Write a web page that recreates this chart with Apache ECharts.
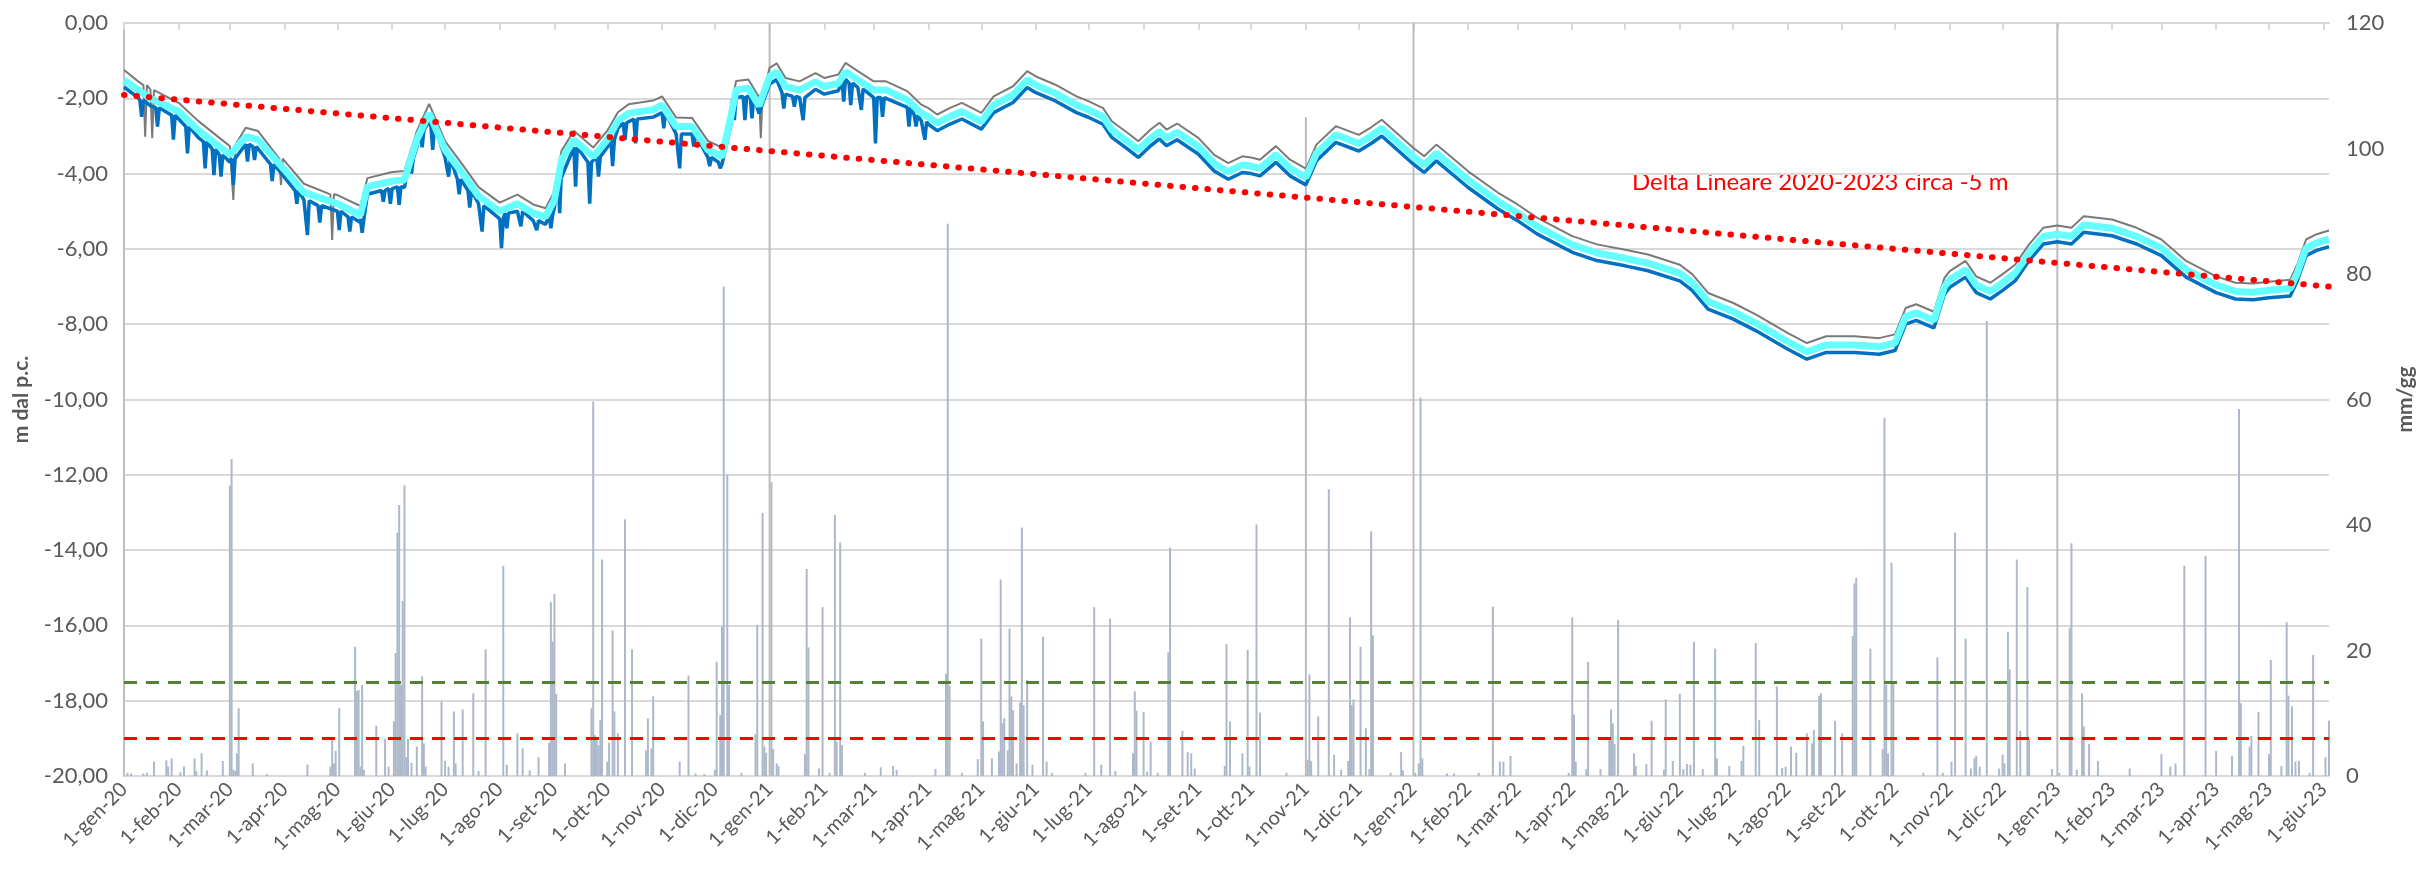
<!DOCTYPE html>
<html>
<head>
<meta charset="utf-8">
<title>Livello piezometrico e piogge 2020-2023</title>
<script src="https://cdn.jsdelivr.net/npm/echarts@6/dist/echarts.min.js"></script>
<style>
  html, body { margin: 0; padding: 0; background: #fff; }
  #charts { width: 2433px; height: 879px; }
</style>
</head>
<body>
<div id="charts"></div>
<script>
// mesi per le etichette dell'asse x
var mesi = ['gen', 'feb', 'mar', 'apr', 'mag', 'giu', 'lug', 'ago', 'set', 'ott', 'nov', 'dic'];
var dataInizio = '2020-01-01';
var dataFine = '2023-06-04';

// tacche degli assi
var tickSinistra = [-20, -18, -16, -14, -12, -10, -8, -6, -4, -2, 0];
var tickDestra = [0, 20, 40, 60, 80, 100, 120];

// livello superiore (grigio) m dal p.c.
var serieGrigia = [
    ['2020-01-01', -1.25], ['2020-01-09', -1.55], ['2020-01-16', -1.77], ['2020-02-01', -2.12], ['2020-02-12', -2.60],
    ['2020-03-01', -3.27], ['2020-03-10', -2.78], ['2020-03-17', -2.87], ['2020-04-01', -3.66], ['2020-04-12', -4.27],
    ['2020-05-01', -4.57], ['2020-05-14', -4.86], ['2020-05-18', -4.12], ['2020-06-01', -3.96], ['2020-06-08', -3.93],
    ['2020-06-15', -2.87], ['2020-06-22', -2.15], ['2020-07-01', -3.14], ['2020-07-11', -3.77], ['2020-07-20', -4.36],
    ['2020-08-01', -4.77], ['2020-08-11', -4.56], ['2020-08-20', -4.82], ['2020-08-27', -4.92], ['2020-09-01', -4.47],
    ['2020-09-05', -3.40], ['2020-09-12', -2.86], ['2020-09-23', -3.31], ['2020-10-01', -2.86], ['2020-10-07', -2.37],
    ['2020-10-13', -2.16], ['2020-10-27', -2.06], ['2020-11-01', -1.95], ['2020-11-09', -2.51], ['2020-11-18', -2.52],
    ['2020-11-27', -3.13], ['2020-12-05', -3.31], ['2020-12-10', -2.27], ['2020-12-13', -1.54], ['2020-12-20', -1.50],
    ['2020-12-26', -1.97], ['2021-01-01', -1.19], ['2021-01-05', -1.07], ['2021-01-10', -1.46], ['2021-01-18', -1.55],
    ['2021-01-27', -1.33], ['2021-02-01', -1.46], ['2021-02-09', -1.37], ['2021-02-13', -1.06], ['2021-02-20', -1.28],
    ['2021-03-01', -1.55], ['2021-03-08', -1.55], ['2021-03-20', -1.81], ['2021-03-28', -2.17], ['2021-04-01', -2.26],
    ['2021-04-06', -2.43], ['2021-04-13', -2.26], ['2021-04-20', -2.12], ['2021-05-01', -2.39], ['2021-05-08', -1.95],
    ['2021-05-19', -1.68], ['2021-05-27', -1.28], ['2021-06-01', -1.42], ['2021-06-12', -1.64], ['2021-06-24', -1.95],
    ['2021-07-01', -2.08], ['2021-07-09', -2.26], ['2021-07-14', -2.61], ['2021-07-23', -2.92], ['2021-07-29', -3.14],
    ['2021-08-05', -2.83], ['2021-08-10', -2.65], ['2021-08-14', -2.83], ['2021-08-20', -2.67], ['2021-09-01', -3.05],
    ['2021-09-10', -3.50], ['2021-09-18', -3.72], ['2021-09-26', -3.54], ['2021-10-01', -3.57], ['2021-10-06', -3.63],
    ['2021-10-15', -3.27], ['2021-10-23', -3.63], ['2021-11-01', -3.87], ['2021-11-07', -3.23], ['2021-11-18', -2.74],
    ['2021-12-01', -2.97], ['2021-12-08', -2.77], ['2021-12-14', -2.57], ['2022-01-01', -3.32], ['2022-01-07', -3.54],
    ['2022-01-14', -3.23], ['2022-02-01', -3.94], ['2022-02-18', -4.51], ['2022-03-01', -4.82], ['2022-03-12', -5.17],
    ['2022-04-01', -5.66], ['2022-04-15', -5.88], ['2022-05-01', -6.02], ['2022-05-14', -6.15], ['2022-06-01', -6.42],
    ['2022-06-08', -6.67], ['2022-06-17', -7.17], ['2022-07-01', -7.43], ['2022-07-14', -7.74], ['2022-08-01', -8.23],
    ['2022-08-12', -8.50], ['2022-08-23', -8.32], ['2022-09-08', -8.32], ['2022-09-22', -8.37], ['2022-10-01', -8.27],
    ['2022-10-07', -7.57], ['2022-10-13', -7.47], ['2022-10-23', -7.67], ['2022-10-29', -6.77], ['2022-11-01', -6.59],
    ['2022-11-10', -6.32], ['2022-11-16', -6.73], ['2022-11-24', -6.90], ['2022-12-01', -6.67], ['2022-12-08', -6.42],
    ['2022-12-16', -5.88], ['2022-12-24', -5.44], ['2023-01-01', -5.38], ['2023-01-09', -5.44], ['2023-01-16', -5.13],
    ['2023-02-01', -5.22], ['2023-02-15', -5.44], ['2023-03-01', -5.75], ['2023-03-15', -6.32], ['2023-04-01', -6.73],
    ['2023-04-12', -6.90], ['2023-04-22', -6.92], ['2023-05-01', -6.87], ['2023-05-13', -6.82], ['2023-05-17', -6.42],
    ['2023-05-22', -5.75], ['2023-05-28', -5.61], ['2023-06-04', -5.51]
];
// picchi grigi: data, livello intorno, minimo
var picchiGrigi = [
    ['2020-01-13', -1.65, -3.02], ['2020-01-17', -1.78, -3.06], ['2020-03-03', -3.25, -4.70],
    ['2020-03-30', -3.60, -4.30], ['2020-04-28', -4.55, -5.76], ['2020-12-27', -1.90, -3.06]
];

// livello medio (azzurro)
var serieAzzurra = [
    ['2020-01-01', -1.51], ['2020-01-09', -1.78], ['2020-01-16', -2.00], ['2020-02-01', -2.35], ['2020-02-12', -2.84],
    ['2020-03-01', -3.50], ['2020-03-10', -3.02], ['2020-03-17', -3.10], ['2020-04-01', -3.90], ['2020-04-12', -4.50],
    ['2020-05-01', -4.80], ['2020-05-14', -5.10], ['2020-05-18', -4.35], ['2020-06-01', -4.20], ['2020-06-08', -4.17],
    ['2020-06-15', -3.10], ['2020-06-22', -2.40], ['2020-07-01', -3.37], ['2020-07-11', -4.00], ['2020-07-20', -4.60],
    ['2020-08-01', -5.00], ['2020-08-11', -4.80], ['2020-08-20', -5.05], ['2020-08-27', -5.15], ['2020-09-01', -4.70],
    ['2020-09-05', -3.64], ['2020-09-12', -3.10], ['2020-09-23', -3.55], ['2020-10-01', -3.10], ['2020-10-07', -2.60],
    ['2020-10-13', -2.40], ['2020-10-27', -2.30], ['2020-11-01', -2.18], ['2020-11-09', -2.75], ['2020-11-18', -2.75],
    ['2020-11-27', -3.37], ['2020-12-05', -3.55], ['2020-12-10', -2.50], ['2020-12-13', -1.78], ['2020-12-20', -1.73],
    ['2020-12-26', -2.20], ['2021-01-01', -1.42], ['2021-01-05', -1.30], ['2021-01-10', -1.69], ['2021-01-18', -1.78],
    ['2021-01-27', -1.56], ['2021-02-01', -1.69], ['2021-02-09', -1.60], ['2021-02-13', -1.29], ['2021-02-20', -1.51],
    ['2021-03-01', -1.78], ['2021-03-08', -1.78], ['2021-03-20', -2.04], ['2021-03-28', -2.40], ['2021-04-01', -2.49],
    ['2021-04-06', -2.66], ['2021-04-13', -2.49], ['2021-04-20', -2.35], ['2021-05-01', -2.62], ['2021-05-08', -2.18],
    ['2021-05-19', -1.91], ['2021-05-27', -1.51], ['2021-06-01', -1.65], ['2021-06-12', -1.87], ['2021-06-24', -2.18],
    ['2021-07-01', -2.31], ['2021-07-09', -2.49], ['2021-07-14', -2.84], ['2021-07-23', -3.15], ['2021-07-29', -3.37],
    ['2021-08-05', -3.06], ['2021-08-10', -2.88], ['2021-08-14', -3.06], ['2021-08-20', -2.90], ['2021-09-01', -3.28],
    ['2021-09-10', -3.73], ['2021-09-18', -3.95], ['2021-09-26', -3.77], ['2021-10-01', -3.80], ['2021-10-06', -3.86],
    ['2021-10-15', -3.50], ['2021-10-23', -3.86], ['2021-11-01', -4.10], ['2021-11-07', -3.46], ['2021-11-18', -2.97],
    ['2021-12-01', -3.20], ['2021-12-08', -3.00], ['2021-12-14', -2.80], ['2022-01-01', -3.55], ['2022-01-07', -3.77],
    ['2022-01-14', -3.46], ['2022-02-01', -4.17], ['2022-02-18', -4.74], ['2022-03-01', -5.05], ['2022-03-12', -5.40],
    ['2022-04-01', -5.89], ['2022-04-15', -6.11], ['2022-05-01', -6.25], ['2022-05-14', -6.38], ['2022-06-01', -6.65],
    ['2022-06-08', -6.90], ['2022-06-17', -7.40], ['2022-07-01', -7.66], ['2022-07-14', -7.97], ['2022-08-01', -8.46],
    ['2022-08-12', -8.73], ['2022-08-23', -8.55], ['2022-09-08', -8.55], ['2022-09-22', -8.60], ['2022-10-01', -8.50],
    ['2022-10-07', -7.80], ['2022-10-13', -7.70], ['2022-10-23', -7.90], ['2022-10-29', -7.00], ['2022-11-01', -6.82],
    ['2022-11-10', -6.55], ['2022-11-16', -6.96], ['2022-11-24', -7.13], ['2022-12-01', -6.90], ['2022-12-08', -6.65],
    ['2022-12-16', -6.11], ['2022-12-24', -5.67], ['2023-01-01', -5.61], ['2023-01-09', -5.67], ['2023-01-16', -5.36],
    ['2023-02-01', -5.45], ['2023-02-15', -5.67], ['2023-03-01', -5.98], ['2023-03-15', -6.55], ['2023-04-01', -6.96],
    ['2023-04-12', -7.13], ['2023-04-22', -7.15], ['2023-05-01', -7.10], ['2023-05-13', -7.05], ['2023-05-17', -6.65],
    ['2023-05-22', -5.98], ['2023-05-28', -5.84], ['2023-06-04', -5.74]
];

// livello inferiore (blu)
var serieBlu = [
    ['2020-01-01', -1.70], ['2020-01-09', -1.98], ['2020-01-16', -2.20], ['2020-02-01', -2.55], ['2020-02-12', -3.04],
    ['2020-03-01', -3.70], ['2020-03-10', -3.22], ['2020-03-17', -3.30], ['2020-04-01', -4.10], ['2020-04-12', -4.70],
    ['2020-05-01', -5.00], ['2020-05-14', -5.30], ['2020-05-18', -4.55], ['2020-06-01', -4.40], ['2020-06-08', -4.37],
    ['2020-06-15', -3.30], ['2020-06-22', -2.60], ['2020-07-01', -3.57], ['2020-07-11', -4.20], ['2020-07-20', -4.80],
    ['2020-08-01', -5.20], ['2020-08-11', -5.00], ['2020-08-20', -5.25], ['2020-08-27', -5.35], ['2020-09-01', -4.90],
    ['2020-09-05', -3.84], ['2020-09-12', -3.30], ['2020-09-23', -3.75], ['2020-10-01', -3.30], ['2020-10-07', -2.80],
    ['2020-10-13', -2.60], ['2020-10-27', -2.50], ['2020-11-01', -2.38], ['2020-11-09', -2.95], ['2020-11-18', -2.95],
    ['2020-11-27', -3.57], ['2020-12-05', -3.75], ['2020-12-10', -2.70], ['2020-12-13', -1.98], ['2020-12-20', -1.93],
    ['2020-12-26', -2.40], ['2021-01-01', -1.62], ['2021-01-05', -1.50], ['2021-01-10', -1.89], ['2021-01-18', -1.98],
    ['2021-01-27', -1.76], ['2021-02-01', -1.89], ['2021-02-09', -1.80], ['2021-02-13', -1.49], ['2021-02-20', -1.71],
    ['2021-03-01', -1.98], ['2021-03-08', -1.98], ['2021-03-20', -2.24], ['2021-03-28', -2.60], ['2021-04-01', -2.69],
    ['2021-04-06', -2.86], ['2021-04-13', -2.69], ['2021-04-20', -2.55], ['2021-05-01', -2.82], ['2021-05-08', -2.38],
    ['2021-05-19', -2.11], ['2021-05-27', -1.71], ['2021-06-01', -1.85], ['2021-06-12', -2.07], ['2021-06-24', -2.38],
    ['2021-07-01', -2.51], ['2021-07-09', -2.69], ['2021-07-14', -3.04], ['2021-07-23', -3.35], ['2021-07-29', -3.57],
    ['2021-08-05', -3.26], ['2021-08-10', -3.08], ['2021-08-14', -3.26], ['2021-08-20', -3.10], ['2021-09-01', -3.48],
    ['2021-09-10', -3.93], ['2021-09-18', -4.15], ['2021-09-26', -3.97], ['2021-10-01', -4.00], ['2021-10-06', -4.06],
    ['2021-10-15', -3.70], ['2021-10-23', -4.06], ['2021-11-01', -4.30], ['2021-11-07', -3.66], ['2021-11-18', -3.17],
    ['2021-12-01', -3.40], ['2021-12-08', -3.20], ['2021-12-14', -3.00], ['2022-01-01', -3.75], ['2022-01-07', -3.97],
    ['2022-01-14', -3.66], ['2022-02-01', -4.37], ['2022-02-18', -4.94], ['2022-03-01', -5.25], ['2022-03-12', -5.60],
    ['2022-04-01', -6.09], ['2022-04-15', -6.31], ['2022-05-01', -6.45], ['2022-05-14', -6.58], ['2022-06-01', -6.85],
    ['2022-06-08', -7.10], ['2022-06-17', -7.60], ['2022-07-01', -7.86], ['2022-07-14', -8.17], ['2022-08-01', -8.66],
    ['2022-08-12', -8.93], ['2022-08-23', -8.75], ['2022-09-08', -8.75], ['2022-09-22', -8.80], ['2022-10-01', -8.70],
    ['2022-10-07', -8.00], ['2022-10-13', -7.90], ['2022-10-23', -8.10], ['2022-10-29', -7.20], ['2022-11-01', -7.02],
    ['2022-11-10', -6.75], ['2022-11-16', -7.16], ['2022-11-24', -7.33], ['2022-12-01', -7.10], ['2022-12-08', -6.85],
    ['2022-12-16', -6.31], ['2022-12-24', -5.87], ['2023-01-01', -5.81], ['2023-01-09', -5.87], ['2023-01-16', -5.56],
    ['2023-02-01', -5.65], ['2023-02-15', -5.87], ['2023-03-01', -6.18], ['2023-03-15', -6.75], ['2023-04-01', -7.16],
    ['2023-04-12', -7.33], ['2023-04-22', -7.35], ['2023-05-01', -7.30], ['2023-05-13', -7.25], ['2023-05-17', -6.85],
    ['2023-05-22', -6.18], ['2023-05-28', -6.04], ['2023-06-04', -5.94]
];
// picchi blu: data, livello intorno, minimo
var picchiBlu = [
    ['2020-01-11', -2.05, -2.49], ['2020-01-20', -2.25, -2.75], ['2020-01-29', -2.45, -3.10], ['2020-02-06', -2.75, -3.46],
    ['2020-02-16', -3.15, -3.86], ['2020-02-21', -3.35, -4.04], ['2020-02-25', -3.50, -4.08], ['2020-03-03', -3.60, -4.30],
    ['2020-03-11', -3.22, -3.68], ['2020-03-15', -3.28, -3.64], ['2020-03-25', -3.75, -4.20], ['2020-04-08', -4.45, -4.80],
    ['2020-04-14', -4.72, -5.63], ['2020-04-21', -4.85, -5.30], ['2020-05-02', -5.00, -5.50], ['2020-05-08', -5.15, -5.54],
    ['2020-05-15', -5.20, -5.57], ['2020-05-27', -4.45, -4.75], ['2020-05-31', -4.40, -4.80], ['2020-06-05', -4.35, -4.83],
    ['2020-06-12', -3.60, -4.00], ['2020-06-18', -2.85, -3.30], ['2020-06-24', -2.75, -3.37], ['2020-07-03', -3.60, -4.08],
    ['2020-07-09', -4.15, -4.55], ['2020-07-15', -4.45, -4.90], ['2020-07-22', -4.85, -5.54], ['2020-08-02', -5.20, -5.98],
    ['2020-08-05', -5.05, -5.45], ['2020-08-13', -5.00, -5.40], ['2020-08-22', -5.25, -5.50], ['2020-08-30', -5.10, -5.45],
    ['2020-09-04', -4.10, -5.05], ['2020-09-13', -3.30, -4.35], ['2020-09-21', -3.70, -4.80], ['2020-09-26', -3.55, -4.08],
    ['2020-10-04', -3.10, -3.80], ['2020-10-11', -2.65, -3.10], ['2020-10-17', -2.55, -3.20], ['2020-11-02', -2.38, -2.80],
    ['2020-11-11', -2.95, -3.86], ['2020-11-19', -2.95, -3.28], ['2020-11-28', -3.57, -3.80], ['2020-12-04', -3.70, -3.86],
    ['2020-12-12', -2.00, -2.58], ['2020-12-18', -1.95, -2.58], ['2020-12-22', -1.95, -2.53], ['2021-01-09', -1.85, -2.27],
    ['2021-01-15', -1.95, -2.22], ['2021-01-20', -1.98, -2.58], ['2021-02-12', -1.50, -2.09], ['2021-02-16', -1.60, -2.18],
    ['2021-02-22', -1.75, -2.31], ['2021-03-02', -1.98, -3.20], ['2021-03-06', -1.98, -2.49], ['2021-03-21', -2.24, -2.75],
    ['2021-03-25', -2.45, -2.75], ['2021-03-30', -2.62, -3.10]
];

// retta di tendenza
var tendenza = [['2020-01-01', -1.91], ['2023-06-04', -7.0]];
// soglie
var sogliaVerde = -17.5;
var sogliaRossa = -19;

// pioggia giornaliera mm/gg
var pioggia = [
    ['2020-01-03', 0.5], ['2020-01-05', 0.4], ['2020-01-12', 0.4], ['2020-01-14', 0.5], ['2020-01-18', 2.3], ['2020-01-25', 2.5],
    ['2020-01-26', 1.5], ['2020-01-28', 2.8], ['2020-02-02', 0.6], ['2020-02-04', 1.5], ['2020-02-10', 2.8], ['2020-02-11', 0.8],
    ['2020-02-14', 3.6], ['2020-02-17', 0.9], ['2020-02-26', 2.4], ['2020-03-01', 46.3], ['2020-03-02', 50.5], ['2020-03-03', 1.0],
    ['2020-03-04', 0.8], ['2020-03-05', 3.6], ['2020-03-06', 10.8], ['2020-03-14', 2.0], ['2020-03-22', 0.3], ['2020-04-14', 1.8],
    ['2020-04-27', 1.5], ['2020-04-28', 6.0], ['2020-04-29', 2.0], ['2020-04-30', 4.0], ['2020-05-02', 10.8], ['2020-05-11', 20.6],
    ['2020-05-12', 13.5], ['2020-05-13', 13.7], ['2020-05-14', 1.5], ['2020-05-15', 14.5], ['2020-05-16', 1.0], ['2020-05-23', 8.0],
    ['2020-05-28', 5.9], ['2020-05-30', 1.5], ['2020-06-02', 8.7], ['2020-06-03', 19.6], ['2020-06-04', 38.8], ['2020-06-05', 43.2],
    ['2020-06-06', 14.5], ['2020-06-07', 27.9], ['2020-06-08', 46.3], ['2020-06-09', 3.0], ['2020-06-10', 5.9], ['2020-06-12', 2.1],
    ['2020-06-15', 4.7], ['2020-06-18', 15.9], ['2020-06-19', 5.2], ['2020-06-20', 1.5], ['2020-06-29', 11.9], ['2020-07-01', 2.4],
    ['2020-07-03', 1.5], ['2020-07-06', 10.3], ['2020-07-07', 2.0], ['2020-07-11', 10.6], ['2020-07-17', 13.2], ['2020-07-20', 0.8],
    ['2020-07-24', 20.2], ['2020-08-03', 33.5], ['2020-08-05', 1.8], ['2020-08-11', 6.8], ['2020-08-14', 4.4], ['2020-08-18', 0.9],
    ['2020-08-23', 3.0], ['2020-08-29', 5.3], ['2020-08-30', 27.7], ['2020-08-31', 21.4], ['2020-09-01', 29.0], ['2020-09-02', 13.1],
    ['2020-09-07', 2.0], ['2020-09-22', 10.8], ['2020-09-23', 59.7], ['2020-09-24', 6.5], ['2020-09-25', 6.0], ['2020-09-26', 4.9],
    ['2020-09-27', 8.9], ['2020-09-28', 34.5], ['2020-10-01', 2.3], ['2020-10-02', 5.3], ['2020-10-04', 23.2], ['2020-10-05', 10.3],
    ['2020-10-07', 6.8], ['2020-10-11', 40.9], ['2020-10-15', 20.2], ['2020-10-23', 4.1], ['2020-10-24', 9.2], ['2020-10-26', 4.4],
    ['2020-10-27', 12.7], ['2020-11-11', 2.3], ['2020-11-16', 16.0], ['2020-11-20', 0.4], ['2020-11-25', 0.3], ['2020-12-01', 1.0],
    ['2020-12-02', 18.2], ['2020-12-04', 9.7], ['2020-12-05', 23.8], ['2020-12-06', 78.0], ['2020-12-08', 48.0], ['2020-12-09', 14.5],
    ['2020-12-16', 0.5], ['2020-12-24', 6.7], ['2020-12-25', 24.1], ['2020-12-28', 41.9], ['2020-12-29', 4.7], ['2020-12-30', 3.7],
    ['2021-01-02', 46.8], ['2021-01-03', 4.3], ['2021-01-05', 2.0], ['2021-01-06', 1.6], ['2021-01-21', 3.5], ['2021-01-22', 33.0],
    ['2021-01-23', 20.5], ['2021-01-29', 1.2], ['2021-01-31', 26.9], ['2021-02-04', 0.5], ['2021-02-07', 41.6], ['2021-02-08', 5.5],
    ['2021-02-10', 37.2], ['2021-02-11', 4.9], ['2021-02-24', 0.5], ['2021-03-05', 1.4], ['2021-03-12', 1.6], ['2021-03-14', 1.0],
    ['2021-04-05', 1.1], ['2021-04-11', 16.3], ['2021-04-12', 88.0], ['2021-04-13', 14.4], ['2021-04-20', 0.5], ['2021-04-29', 2.7],
    ['2021-05-01', 21.9], ['2021-05-02', 8.7], ['2021-05-07', 2.8], ['2021-05-11', 3.9], ['2021-05-12', 31.3], ['2021-05-13', 8.4],
    ['2021-05-14', 9.2], ['2021-05-16', 4.1], ['2021-05-17', 23.5], ['2021-05-18', 12.7], ['2021-05-19', 10.5], ['2021-05-21', 2.0],
    ['2021-05-23', 11.7], ['2021-05-24', 39.6], ['2021-05-25', 11.3], ['2021-05-27', 15.3], ['2021-05-30', 1.8], ['2021-06-05', 22.2],
    ['2021-06-07', 2.3], ['2021-06-10', 0.5], ['2021-06-29', 0.5], ['2021-07-04', 26.9], ['2021-07-08', 1.8], ['2021-07-13', 25.1],
    ['2021-07-16', 0.8], ['2021-07-26', 3.6], ['2021-07-27', 13.5], ['2021-07-28', 10.4], ['2021-08-01', 10.2], ['2021-08-03', 0.7],
    ['2021-08-05', 5.5], ['2021-08-09', 0.5], ['2021-08-15', 19.7], ['2021-08-16', 36.4], ['2021-08-23', 7.2], ['2021-08-26', 3.8],
    ['2021-08-28', 3.6], ['2021-08-30', 1.2], ['2021-09-16', 1.6], ['2021-09-17', 21.0], ['2021-09-19', 8.7], ['2021-09-26', 3.6],
    ['2021-09-29', 20.1], ['2021-09-30', 1.5], ['2021-10-04', 40.1], ['2021-10-06', 10.1], ['2021-10-21', 0.5], ['2021-11-02', 2.6],
    ['2021-11-03', 16.2], ['2021-11-04', 2.4], ['2021-11-08', 9.5], ['2021-11-14', 45.7], ['2021-11-17', 3.4], ['2021-11-21', 1.0],
    ['2021-11-25', 2.4], ['2021-11-26', 25.3], ['2021-11-27', 11.3], ['2021-11-28', 12.2], ['2021-12-02', 20.6], ['2021-12-05', 7.6],
    ['2021-12-07', 1.1], ['2021-12-08', 39.0], ['2021-12-09', 22.4], ['2021-12-19', 0.5], ['2021-12-25', 3.8], ['2021-12-26', 0.9],
    ['2022-01-02', 0.5], ['2022-01-04', 2.0], ['2022-01-05', 60.3], ['2022-01-06', 2.8], ['2022-01-20', 0.4], ['2022-01-24', 0.4],
    ['2022-02-07', 0.5], ['2022-02-15', 27.0], ['2022-02-19', 2.3], ['2022-02-21', 2.3], ['2022-02-25', 3.2], ['2022-03-30', 0.5],
    ['2022-04-01', 25.3], ['2022-04-02', 9.8], ['2022-04-03', 2.3], ['2022-04-09', 1.1], ['2022-04-10', 18.2], ['2022-04-17', 1.1],
    ['2022-04-22', 5.9], ['2022-04-23', 10.6], ['2022-04-24', 8.4], ['2022-04-25', 5.1], ['2022-04-27', 24.9], ['2022-05-06', 3.6],
    ['2022-05-07', 1.6], ['2022-05-13', 1.9], ['2022-05-16', 8.8], ['2022-05-23', 1.0], ['2022-05-24', 12.2], ['2022-05-28', 2.4],
    ['2022-06-01', 13.1], ['2022-06-03', 1.1], ['2022-06-05', 1.9], ['2022-06-07', 1.8], ['2022-06-09', 21.4], ['2022-06-14', 1.1],
    ['2022-06-21', 20.3], ['2022-06-22', 2.8], ['2022-06-29', 1.6], ['2022-07-06', 2.4], ['2022-07-07', 4.8], ['2022-07-14', 21.2],
    ['2022-07-16', 8.9], ['2022-07-26', 14.3], ['2022-07-29', 1.3], ['2022-07-31', 1.5], ['2022-08-03', 4.7], ['2022-08-06', 3.7],
    ['2022-08-12', 6.8], ['2022-08-15', 5.2], ['2022-08-16', 7.3], ['2022-08-19', 12.8], ['2022-08-20', 13.2], ['2022-08-28', 8.8],
    ['2022-09-01', 6.8], ['2022-09-07', 22.3], ['2022-09-08', 30.7], ['2022-09-09', 31.6], ['2022-09-17', 20.3], ['2022-09-24', 4.3],
    ['2022-09-25', 57.1], ['2022-09-26', 14.5], ['2022-09-27', 3.6], ['2022-09-29', 34.0], ['2022-09-30', 15.1], ['2022-10-17', 0.5],
    ['2022-10-25', 18.9], ['2022-10-28', 0.5], ['2022-11-02', 2.3], ['2022-11-04', 38.8], ['2022-11-10', 21.9], ['2022-11-13', 1.2],
    ['2022-11-15', 2.8], ['2022-11-16', 3.2], ['2022-11-18', 1.5], ['2022-11-22', 72.5], ['2022-11-29', 1.2], ['2022-12-01', 3.4],
    ['2022-12-02', 2.0], ['2022-12-04', 23.0], ['2022-12-05', 17.0], ['2022-12-09', 34.5], ['2022-12-11', 7.2], ['2022-12-15', 30.1],
    ['2022-12-16', 5.9], ['2022-12-29', 1.1], ['2023-01-02', 0.5], ['2023-01-08', 23.6], ['2023-01-09', 37.1], ['2023-01-12', 1.0],
    ['2023-01-15', 13.2], ['2023-01-16', 7.9], ['2023-01-19', 5.1], ['2023-01-24', 2.4], ['2023-02-11', 1.2], ['2023-03-01', 3.5],
    ['2023-03-06', 1.5], ['2023-03-09', 2.0], ['2023-03-14', 33.5], ['2023-03-26', 35.1], ['2023-04-01', 4.0], ['2023-04-10', 3.2],
    ['2023-04-14', 58.5], ['2023-04-15', 11.6], ['2023-04-20', 4.7], ['2023-04-21', 6.4], ['2023-04-25', 10.2], ['2023-05-01', 3.5],
    ['2023-05-02', 18.5], ['2023-05-08', 1.6], ['2023-05-11', 24.5], ['2023-05-12', 12.8], ['2023-05-14', 11.1], ['2023-05-16', 2.3],
    ['2023-05-18', 2.4], ['2023-05-24', 0.5], ['2023-05-26', 19.3], ['2023-06-02', 3.0], ['2023-06-04', 8.8]
];
// barre grigie (inizio anno e 1-nov-21)
var marcatori = [['2021-01-01', 120], ['2021-11-01', 105], ['2022-01-01', 120], ['2023-01-01', 120]];

var testoDelta = 'Delta Lineare 2020-2023 circa -5 m';

// categorie giornaliere
var giorni = [];
var indice = {};
(function () {
    var t = Date.parse(dataInizio + 'T00:00:00Z');
    var fine = Date.parse(dataFine + 'T00:00:00Z');
    while (t <= fine) {
        var s = new Date(t).toISOString().slice(0, 10);
        indice[s] = giorni.length;
        giorni.push(s);
        t += 86400000;
    }
})();

function etichetta(d) {
    var p = d.split('-');
    return (+p[2]) + '-' + mesi[+p[1] - 1] + '-' + p[0].slice(2);
}

function punti(lista) {
    return lista.map(function (p) { return [indice[p[0]], p[1]]; });
}

function conPicchi(base, picchi) {
    var out = punti(base);
    picchi.forEach(function (p) {
        var i = indice[p[0]];
        out.push([i - 1, p[1]], [i, p[2]], [i + 1, p[1]]);
    });
    out.sort(function (a, b) { return a[0] - b[0]; });
    return out;
}

var primoDelMese = function (idx, val) { return val.slice(8) === '01'; };
var grigioTesto = '#595959';
var font = 'Lato';

var myChart = echarts.init(document.getElementById('charts'));
myChart.setOption({
    animation: false,
    backgroundColor: '#fff',
    grid: {left: 124, right: 104, top: 23, bottom: 103},
    xAxis: {
        type: 'category',
        data: giorni,
        boundaryGap: false,
        axisLine: {lineStyle: {color: '#d9d9d9', width: 2}},
        axisTick: {show: true, interval: primoDelMese, length: 7, lineStyle: {color: '#d9d9d9', width: 2}},
        axisLabel: {
            interval: primoDelMese,
            rotate: 45,
            color: grigioTesto,
            fontFamily: font,
            fontSize: 20,
            margin: 10,
            formatter: etichetta
        },
        splitLine: {show: false}
    },
    yAxis: [
        {
            type: 'value',
            min: tickSinistra[0],
            max: tickSinistra[tickSinistra.length - 1],
            interval: 2,
            name: 'm dal p.c.',
            nameLocation: 'middle',
            nameRotate: 90,
            nameGap: 92,
            nameTextStyle: {color: grigioTesto, fontFamily: font, fontSize: 21, fontWeight: 'bold'},
            axisLine: {show: true, lineStyle: {color: '#bfbfbf', width: 2}},
            axisTick: {show: false},
            axisLabel: {
                color: grigioTesto, fontFamily: font, fontSize: 22, margin: 16,
                formatter: function (v) { return v.toFixed(2).replace('.', ','); }
            },
            splitLine: {lineStyle: {color: '#d9d9d9', width: 2}}
        },
        {
            type: 'value',
            min: tickDestra[0],
            max: tickDestra[tickDestra.length - 1],
            interval: 20,
            name: 'mm/gg',
            nameLocation: 'middle',
            nameRotate: 90,
            nameGap: 54,
            nameTextStyle: {color: grigioTesto, fontFamily: font, fontSize: 21, fontWeight: 'bold'},
            axisLine: {show: false},
            axisTick: {show: false},
            axisLabel: {color: grigioTesto, fontFamily: font, fontSize: 22, margin: 17},
            splitLine: {show: false}
        }
    ],
    graphic: [{
        type: 'text',
        left: 1632,
        top: 170,
        style: {text: testoDelta, fill: '#ff0000', font: '24px Lato'}
    }],
    series: [
        {
            name: 'Pioggia',
            type: 'bar',
            yAxisIndex: 1,
            barWidth: 2,
            barGap: '-100%',
            itemStyle: {color: '#adb9ca'},
            data: punti(pioggia)
        },
        {
            name: 'Marcatori',
            type: 'bar',
            yAxisIndex: 1,
            barWidth: 2,
            barGap: '-100%',
            itemStyle: {color: '#bcbcbc'},
            data: punti(marcatori)
        },
        {
            name: 'Grigio',
            type: 'line',
            showSymbol: false,
            lineStyle: {color: '#7a7a7a', width: 2},
            data: conPicchi(serieGrigia, picchiGrigi)
        },
        {
            name: 'Blu',
            type: 'line',
            showSymbol: false,
            lineStyle: {color: '#0070c0', width: 3.5},
            data: conPicchi(serieBlu, picchiBlu)
        },
        {
            name: 'Azzurro',
            type: 'line',
            showSymbol: false,
            lineStyle: {color: '#66ffff', width: 7},
            data: punti(serieAzzurra)
        },
        {
            name: 'Tendenza',
            type: 'line',
            showSymbol: false,
            lineStyle: {color: '#ff0000', width: 6, type: [0.5, 12], cap: 'round'},
            data: punti(tendenza),
            markLine: {
                silent: true,
                symbol: 'none',
                label: {show: false},
                data: [
                    {yAxis: sogliaVerde, lineStyle: {color: '#548235', width: 3, type: [13, 9]}},
                    {yAxis: sogliaRossa, lineStyle: {color: '#ff0000', width: 3, type: [13, 9]}}
                ]
            }
        }
    ]
});
</script>
</body>
</html>
